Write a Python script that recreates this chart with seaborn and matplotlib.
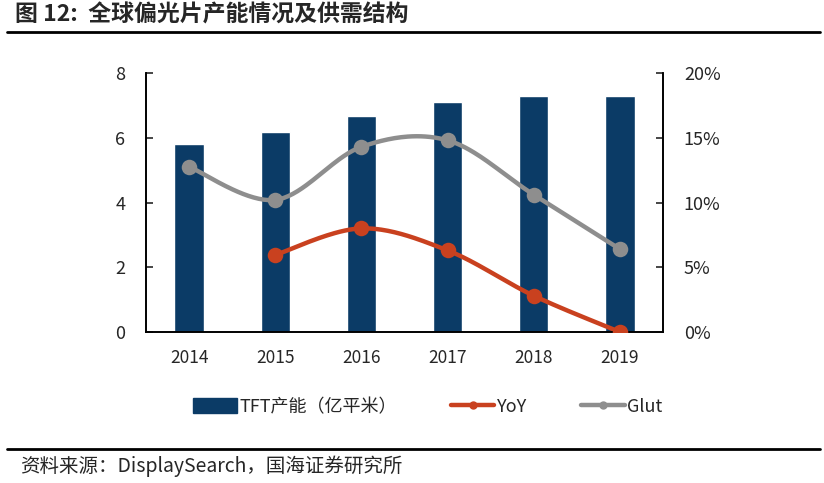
import numpy as np
import pandas as pd
import seaborn as sns
import matplotlib.pyplot as plt
from matplotlib.lines import Line2D
from matplotlib.patches import Patch

# 全球偏光片产能情况及供需结构
years = ['2014', '2015', '2016', '2017', '2018', '2019']
tft_cap = [5.82, 6.18, 6.67, 7.09, 7.28, 7.28]         # 亿平米
yoy = [np.nan, 5.95, 8.0, 6.3, 2.8, 0.0]                 # %
glut = [12.76, 10.2, 14.3, 14.8, 10.6, 6.4]              # %

left_ticks = [0, 2, 4, 6, 8]
right_ticks = [0, 5, 10, 15, 20]

df = pd.DataFrame({'year': years, 'tft': tft_cap, 'yoy': yoy, 'glut': glut})

bar_c = '#0B3B66'
red_c = '#C9411F'
gray_c = '#8E8E8E'


def catmull(xs, ys, n=40):
    # smooth line through the points, like Excel's "smoothed line"
    p = np.column_stack([xs, ys]).astype(float)
    p = np.vstack([p[0], p, p[-1]])
    segs = []
    t = np.linspace(0, 1, n)[:, None]
    for i in range(1, len(p) - 2):
        p0, p1, p2, p3 = p[i - 1], p[i], p[i + 1], p[i + 2]
        seg = 0.5 * (2 * p1 + (-p0 + p2) * t + (2 * p0 - 5 * p1 + 4 * p2 - p3) * t ** 2
                     + (-p0 + 3 * p1 - 3 * p2 + p3) * t ** 3)
        segs.append(seg)
    return np.vstack(segs)


sns.set_style('white')
plt.rcParams['font.family'] = ['Noto Sans CJK SC', 'DejaVu Sans']

fig = plt.figure(figsize=(8.24, 4.83), dpi=100)
ax1 = fig.add_axes([146 / 824, 1 - 332 / 483, (663 - 146) / 824, (332 - 73) / 483])

sns.barplot(data=df, x='year', y='tft', color=bar_c, width=0.34, saturation=1, ax=ax1)
ax1.set_xlim(-0.5, len(years) - 0.5)
ax1.set_ylim(0, 8)
ax1.set_yticks(left_ticks)
ax1.set_xlabel('')
ax1.set_ylabel('')

ax2 = ax1.twinx()
xs = np.arange(len(years))
for col, c in [('glut', gray_c), ('yoy', red_c)]:
    m = df[col].notna().values
    curve = catmull(xs[m], df[col].values[m])
    sns.lineplot(x=curve[:, 0], y=curve[:, 1], color=c, linewidth=3.2, sort=False, ax=ax2)
    sns.scatterplot(x=xs[m], y=df[col].values[m], color=c, s=125, edgecolor=c,
                    linewidth=0, zorder=5, ax=ax2)
ax2.set_ylim(0, 20)
ax2.set_yticks(right_ticks)
ax2.set_yticklabels([f'{v}%' for v in right_ticks])

for ax in (ax1, ax2):
    ax.spines['top'].set_visible(False)
    for s in ('left', 'right', 'bottom'):
        ax.spines[s].set_color('black')
        ax.spines[s].set_linewidth(1.2)
    ax.tick_params(axis='y', direction='in', length=5, width=1.2, labelsize=13, pad=15)

ax1.tick_params(axis='x', which='major', length=0, labelsize=12.5, pad=12)
ax1.set_xticks(np.arange(-0.5, len(years)), minor=True)
ax1.tick_params(axis='x', which='minor', direction='in', length=5, width=1.2)

# legend
handles = [Patch(facecolor=bar_c, edgecolor=bar_c),
           Line2D([], [], color=red_c, lw=3.2, marker='o', markersize=5),
           Line2D([], [], color=gray_c, lw=3.2, marker='o', markersize=5)]
fig.legend(handles, ['TFT产能（亿平米）', 'YoY', 'Glut'], loc='center',
           bbox_to_anchor=(428 / 824, 1 - 407 / 483), ncol=3, frameon=False,
           fontsize=13, handlelength=2.4, handleheight=0.9, handletextpad=0.15,
           columnspacing=3.0)

# title, rules and source
fig.text(15 / 824, 1 - 15 / 483, '图 12:  全球偏光片产能情况及供需结构', fontsize=16.5,
         fontweight='bold', va='center', ha='left')
fig.add_artist(Line2D([7 / 824, 820 / 824], [1 - 32 / 483] * 2, color='black', lw=2))
fig.add_artist(Line2D([7 / 824, 820 / 824], [1 - 449 / 483] * 2, color='black', lw=2))
fig.text(20 / 824, 1 - 466 / 483, '资料来源：DisplaySearch，国海证券研究所', fontsize=14,
         va='center', ha='left')

fig.savefig('out.png', dpi=100, facecolor='white')
